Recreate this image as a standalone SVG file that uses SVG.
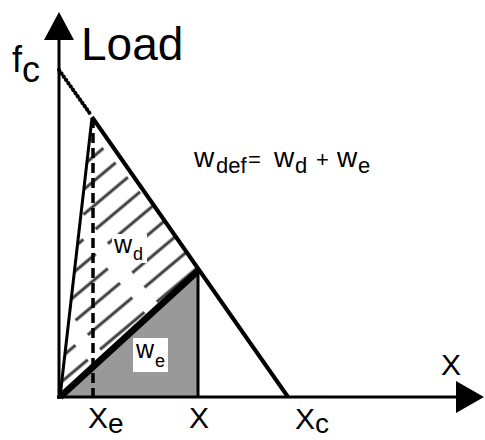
<svg xmlns="http://www.w3.org/2000/svg" width="485" height="440" viewBox="0 0 485 440">
<style>
text{font-family:"Liberation Sans",Arial,sans-serif;fill:#000}
.ln{stroke:#000;fill:none;stroke-linecap:butt}
</style>
<defs>
<pattern id="hatch" patternUnits="userSpaceOnUse" width="74" height="19" patternTransform="rotate(-40)">
<line x1="0" y1="9" x2="58" y2="9" stroke="#1a1a1a" stroke-width="3" opacity="0.85"/>
</pattern>
</defs>
<rect width="485" height="440" fill="#fff"/>
<g id="regions">
<polygon id="hatched" points="60,397 92,118 198,270" fill="url(#hatch)"/>
<polygon id="gray" points="60,397 198,270 198,397" fill="#999999"/>
</g>
<g id="connectors">
<line class="ln" x1="59" y1="399" x2="59" y2="38" stroke-width="3"/>
<polygon points="59,12 44,40 74,40" fill="#000"/>
<line class="ln" x1="57" y1="397" x2="458" y2="397" stroke-width="3"/>
<polygon points="484,397 456,381 456,413" fill="#000"/>
<line x1="59" y1="70" x2="91" y2="115" stroke="#000" stroke-width="4" stroke-linecap="round" stroke-dasharray="0.5 3.5"/>
<line class="ln" x1="60" y1="397" x2="92" y2="118" stroke-width="3"/>
<line class="ln" x1="93" y1="118" x2="93" y2="397" stroke-width="3.5" stroke-dasharray="10 5"/>
<line class="ln" x1="92" y1="117" x2="288" y2="397" stroke-width="4"/>
<line class="ln" x1="60" y1="397" x2="199" y2="270" stroke-width="6.5"/>
<line class="ln" x1="198" y1="269" x2="198" y2="397" stroke-width="3"/>
</g>
<g id="labels">
<text x="81" y="60" font-size="46">Load</text>
<text x="12" y="72" font-size="36">f</text>
<text x="22" y="82" font-size="36">c</text>
<text x="194" y="167" font-size="28">w</text>
<text x="216" y="173" font-size="22">def</text>
<text x="248" y="167" font-size="22">=</text>
<text x="274" y="167" font-size="28">w</text>
<text x="295" y="173" font-size="22">d</text>
<text x="316" y="167" font-size="22">+</text>
<text x="337" y="167" font-size="28">w</text>
<text x="358" y="173" font-size="22">e</text>
<g id="wd"><rect x="112" y="234" width="35" height="29" fill="#fff"/>
<text x="114" y="253" font-size="25">w</text><text x="133" y="260" font-size="18">d</text></g>
<g id="we"><rect x="133" y="338" width="35" height="34" fill="#fff"/>
<text x="136" y="358" font-size="25">w</text><text x="155" y="367" font-size="18">e</text></g>
<text x="441" y="375" font-size="30">X</text>
<text x="88" y="428" font-size="30">X</text>
<text x="108" y="433" font-size="28">e</text>
<text x="189" y="428" font-size="30">X</text>
<text x="295" y="429" font-size="30">X</text>
<text x="315" y="433" font-size="28">c</text>
</g>
</svg>
